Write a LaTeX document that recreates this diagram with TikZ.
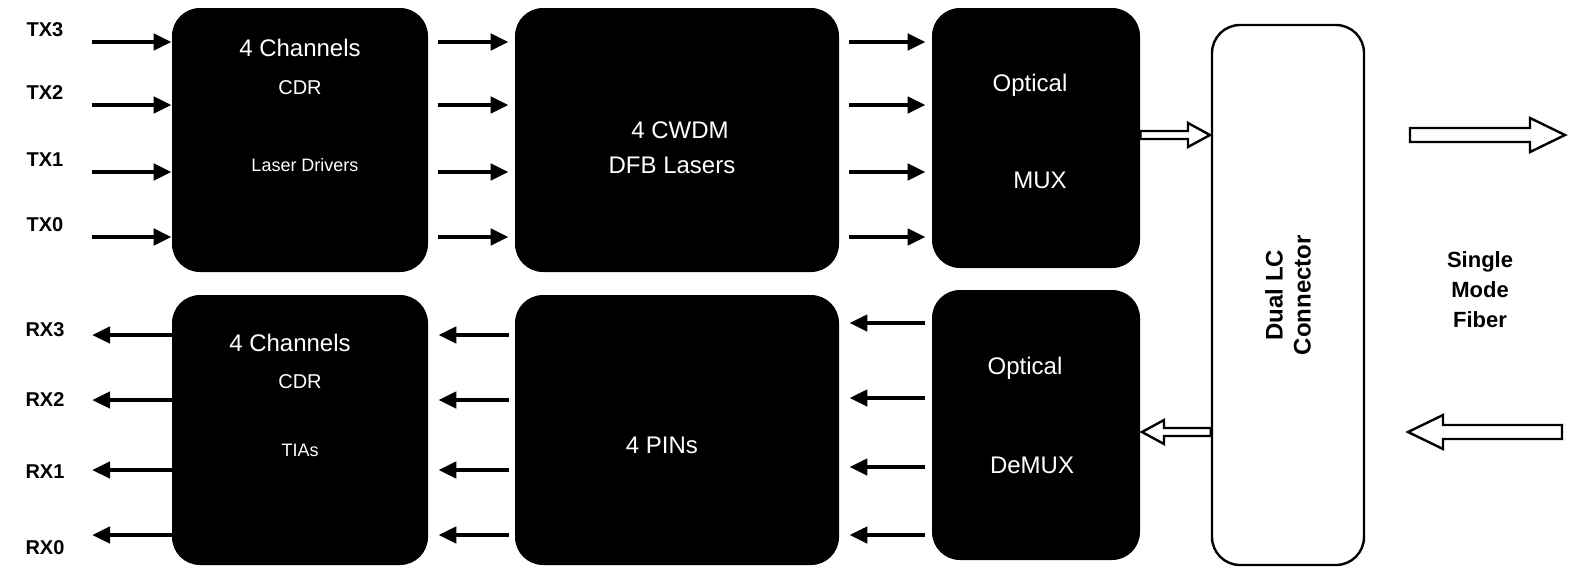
\documentclass[tikz,border=0pt]{standalone}
\usepackage{fontspec}
\setmainfont{Liberation Sans}
\usetikzlibrary{arrows.meta,positioning}
\tikzset{
  blk/.style={fill=black, rounded corners=14pt, inner sep=0pt},
  intxt/.style={text=white, font=\fontsize{12}{13}\selectfont},
  lbl/.style={font=\bfseries\fontsize{10}{11}\selectfont},
  sig/.style={line width=2.2pt, -{Triangle[length=9pt,width=8pt]}},
  hollow/.style={draw=black, line width=1.2pt, fill=white},
}
\begin{document}
\begin{tikzpicture}[x=0.5pt,y=0.5pt,yscale=-1]
\useasboundingbox (0,0) rectangle (1578,580);

% blocks, transmit side
\node[blk, minimum width=128pt, minimum height=132pt] (cdrT) at (300,140) {};
\node[blk, minimum width=162pt, minimum height=132pt] (dfb) at (677,140) {};
\node[blk, minimum width=104pt, minimum height=130pt] (mux) at (1036,138) {};
% blocks, receive side
\node[blk, minimum width=128pt, minimum height=135pt] (cdrR) at (300,430) {};
\node[blk, minimum width=162pt, minimum height=135pt] (pin) at (677,430) {};
\node[blk, minimum width=104pt, minimum height=135pt] (demux) at (1036,425) {};
% connector
\node[draw, line width=1.2pt, rounded corners=14pt, minimum width=76pt, minimum height=270pt] (lc) at (1288,295) {};
\node[rotate=90, align=center, font=\bfseries\fontsize{12}{14}\selectfont] (lctxt) at (lc) {Dual LC\\Connector};

% texts in blocks
\node[intxt] (t1) at (300,48) {4 Channels};
\node[intxt, font=\fontsize{10}{12}\selectfont] (t2) at (300,88) {CDR};
\node[intxt, font=\fontsize{9}{10}\selectfont] (t3) at (305,165) {Laser Drivers};
\node[intxt] (t4) at (680,130) {4 CWDM};
\node[intxt] (t5) at (672,165) {DFB Lasers};
\node[intxt] (t6) at (1030,85) {Optical};
\node[intxt] (t7) at (1040,180) {MUX};
\node[intxt] (r1) at (290,343) {4 Channels};
\node[intxt, font=\fontsize{10}{12}\selectfont] (r2) at (300,382) {CDR};
\node[intxt, font=\fontsize{9}{10}\selectfont] (r3) at (300,450) {TIAs};
\node[intxt] (r4) at (662,445) {4 PINs};
\node[intxt] (r5) at (1025,368) {Optical};
\node[intxt] (r6) at (1032,465) {DeMUX};

% transmit lanes
\foreach \n/\y in {3/42,2/105,1/172,0/237}{
  \node[lbl] (tx\n) at (45,\y-12) {TX\n};
  \coordinate (a\n) at (92,\y);
  \draw[sig] (a\n) -- (cdrT.west |- a\n);
  \draw[sig] ([xshift=5]cdrT.east |- a\n) -- ([xshift=-3]dfb.west |- a\n);
  \draw[sig] ([xshift=5]dfb.east |- a\n) -- ([xshift=-3]mux.west |- a\n);
}
% receive lanes
\foreach \n/\y/\z/\l in {3/335/323/330,2/400/398/400,1/470/467/472,0/535/535/548}{
  \node[lbl] (rx\n) at (45,\l) {RX\n};
  \coordinate (b\n) at (92,\y);
  \draw[sig] (cdrR.west |- b\n) -- (b\n);
  \draw[sig] ([xshift=-3]pin.west |- b\n) -- ([xshift=5]cdrR.east |- b\n);
  \coordinate (c\n) at (925,\z);
  \draw[sig] (c\n) -- ([xshift=5]pin.east |- c\n);
}

% fibre arrows
\draw[hollow] (mux.east |- 0,131) -- (1188,131) -- (1188,123) -- (1210,135) -- (1188,147) -- (1188,139) -- (mux.east |- 0,139) -- cycle;
\draw[hollow] (lc.west |- 0,428) -- (1164,428) -- (1164,420) -- (1142,432) -- (1164,444) -- (1164,436) -- (lc.west |- 0,436) -- cycle;
\node[align=center, font=\bfseries\fontsize{11}{15}\selectfont] (smf) at (1480,290) {Single\\Mode\\Fiber};
\draw[hollow] (1410,128) -- (1530,128) -- (1530,118) -- (1565,135) -- (1530,152) -- (1530,142) -- (1410,142) -- cycle;
\draw[hollow] (1562,425) -- (1443,425) -- (1443,415) -- (1408,432) -- (1443,449) -- (1443,439) -- (1562,439) -- cycle;
\end{tikzpicture}
\end{document}
